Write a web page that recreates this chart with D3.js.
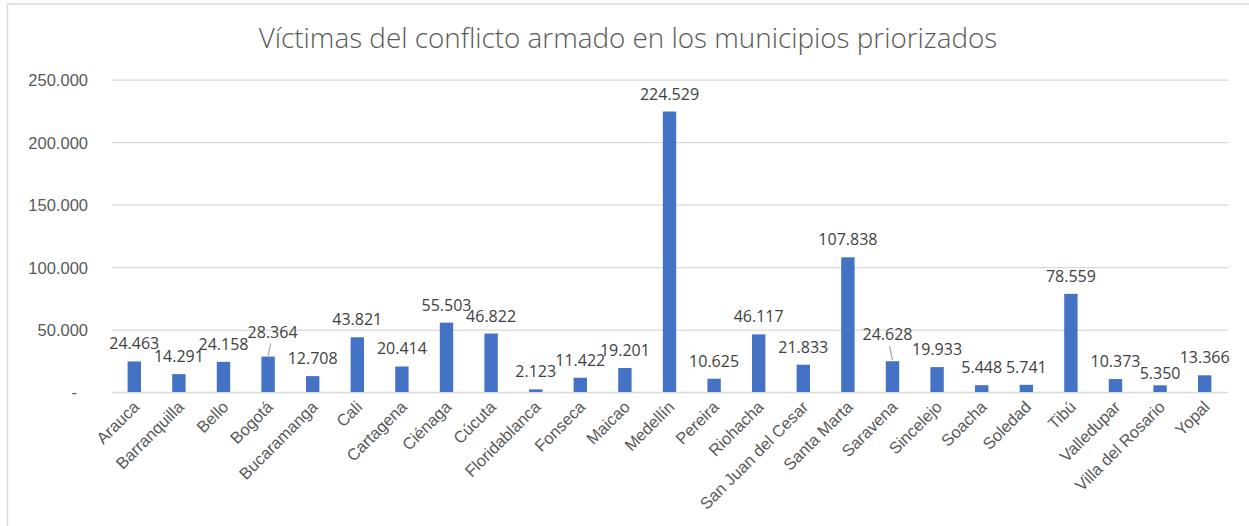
<!DOCTYPE html>
<html>
<head>
<meta charset="utf-8">
<title>Víctimas del conflicto armado</title>
<script src="https://cdn.jsdelivr.net/npm/d3@7"></script>
<style>
  body { margin: 0; background: #fff; }
  svg { display: block; font-family: "Open Sans", sans-serif; }
</style>
</head>
<body>
<svg id="chart"></svg>
<script>
  // data
  let municipios = ["Arauca", "Barranquilla", "Bello", "Bogotá", "Bucaramanga", "Cali", "Cartagena",
    "Ciénaga", "Cúcuta", "Floridablanca", "Fonseca", "Maicao", "Medellín", "Pereira", "Riohacha",
    "San Juan del Cesar", "Santa Marta", "Saravena", "Sincelejo", "Soacha", "Soledad", "Tibú",
    "Valledupar", "Villa del Rosario", "Yopal"];
  let victimas = [24463, 14291, 24158, 28364, 12708, 43821, 20414, 55503, 46822, 2123, 11422, 19201,
    224529, 10625, 46117, 21833, 107838, 24628, 19933, 5448, 5741, 78559, 10373, 5350, 13366];
  let yTicks = [0, 50000, 100000, 150000, 200000, 250000];
  let titulo = "Víctimas del conflicto armado en los municipios priorizados";

  // labels that Excel moved to avoid overlaps
  let labelNudge = {
    "Bogotá": { dx: 4.5, dy: -7, leader: true },
    "Saravena": { dx: -5, dy: -9, leader: true },
    "Villa del Rosario": { dx: 0, dy: 6, leader: false }
  };

  let WIDTH = 1249, HEIGHT = 526;
  let barColor = "#4472C4", gridColor = "#d9d9d9", textColor = "#595959", labelColor = "#404040";

  let es = d3.formatLocale({ decimal: ",", thousands: ".", grouping: [3], currency: ["", ""] });
  let fmt = es.format(",d");

  let svg = d3.select("#chart").attr("width", WIDTH).attr("height", HEIGHT);

  // chart border
  svg.append("rect")
    .attr("x", 7.5).attr("y", 4).attr("width", WIDTH + 10).attr("height", HEIGHT + 10)
    .attr("fill", "#fff").attr("stroke", gridColor).attr("stroke-width", 1.5);

  let xScale = d3.scaleBand().domain(municipios).range([112, 1227]).paddingInner(0.7).paddingOuter(0.35);
  let yScale = d3.scaleLinear().domain([0, 250000]).range([392, 79.7]);

  // title, fitted to the width it has in the picture
  let title = svg.append("text")
    .attr("x", 628).attr("y", 48)
    .attr("text-anchor", "middle")
    .attr("fill", textColor)
    .style("font-weight", 300)
    .style("font-size", "26px")
    .text(titulo);
  let tw = title.node().getComputedTextLength();
  title.style("font-size", (26 * 739 / tw) + "px");

  // gridlines + y axis
  let yAxis = svg.append("g")
    .attr("transform", "translate(112,0)")
    .call(d3.axisLeft(yScale).tickValues(yTicks).tickSize(-(1229 - 113)).tickPadding(24)
      .tickFormat(d => d === 0 ? "-" : fmt(d)));
  yAxis.select(".domain").remove();
  yAxis.selectAll(".tick line").attr("stroke", gridColor).attr("stroke-width", 1.3);
  yAxis.selectAll(".tick text")
    .attr("fill", textColor)
    .style("font-size", "16.5px")
    .attr("dy", "0.36em");
  yAxis.selectAll(".tick text").filter(d => d === 0).attr("dx", -11);

  // bars
  svg.append("g").selectAll("rect")
    .data(municipios)
    .enter().append("rect")
    .attr("x", d => xScale(d))
    .attr("width", xScale.bandwidth())
    .attr("y", (d, i) => yScale(victimas[i]))
    .attr("height", (d, i) => yScale(0) - yScale(victimas[i]))
    .attr("fill", barColor);

  // data labels
  let labels = svg.append("g");
  municipios.forEach(function (m, i) {
    let nudge = labelNudge[m] || { dx: 0, dy: 0, leader: false };
    let cx = xScale(m) + xScale.bandwidth() / 2;
    let top = yScale(victimas[i]);
    let ly = top - 12 + nudge.dy;
    labels.append("text")
      .attr("x", cx + nudge.dx).attr("y", ly)
      .attr("text-anchor", "middle")
      .attr("fill", labelColor)
      .style("font-size", "16px")
      .text(fmt(victimas[i]));
    if (nudge.leader) {
      labels.append("line")
        .attr("x1", cx + nudge.dx * 0.6).attr("y1", ly + 6)
        .attr("x2", cx).attr("y2", top - 1)
        .attr("stroke", "#a6a6a6").attr("stroke-width", 1.2);
    }
  });

  // x axis labels
  let xAxis = svg.append("g")
    .attr("transform", "translate(0," + yScale(0) + ")")
    .call(d3.axisBottom(xScale).tickSize(0).tickPadding(0));
  xAxis.select(".domain").remove();
  xAxis.selectAll(".tick text")
    .attr("fill", textColor)
    .style("font-size", "16.5px")
    .attr("text-anchor", "end")
    .attr("dy", 0)
    .attr("transform", "translate(6,16) rotate(-45)");
</script>
</body>
</html>
